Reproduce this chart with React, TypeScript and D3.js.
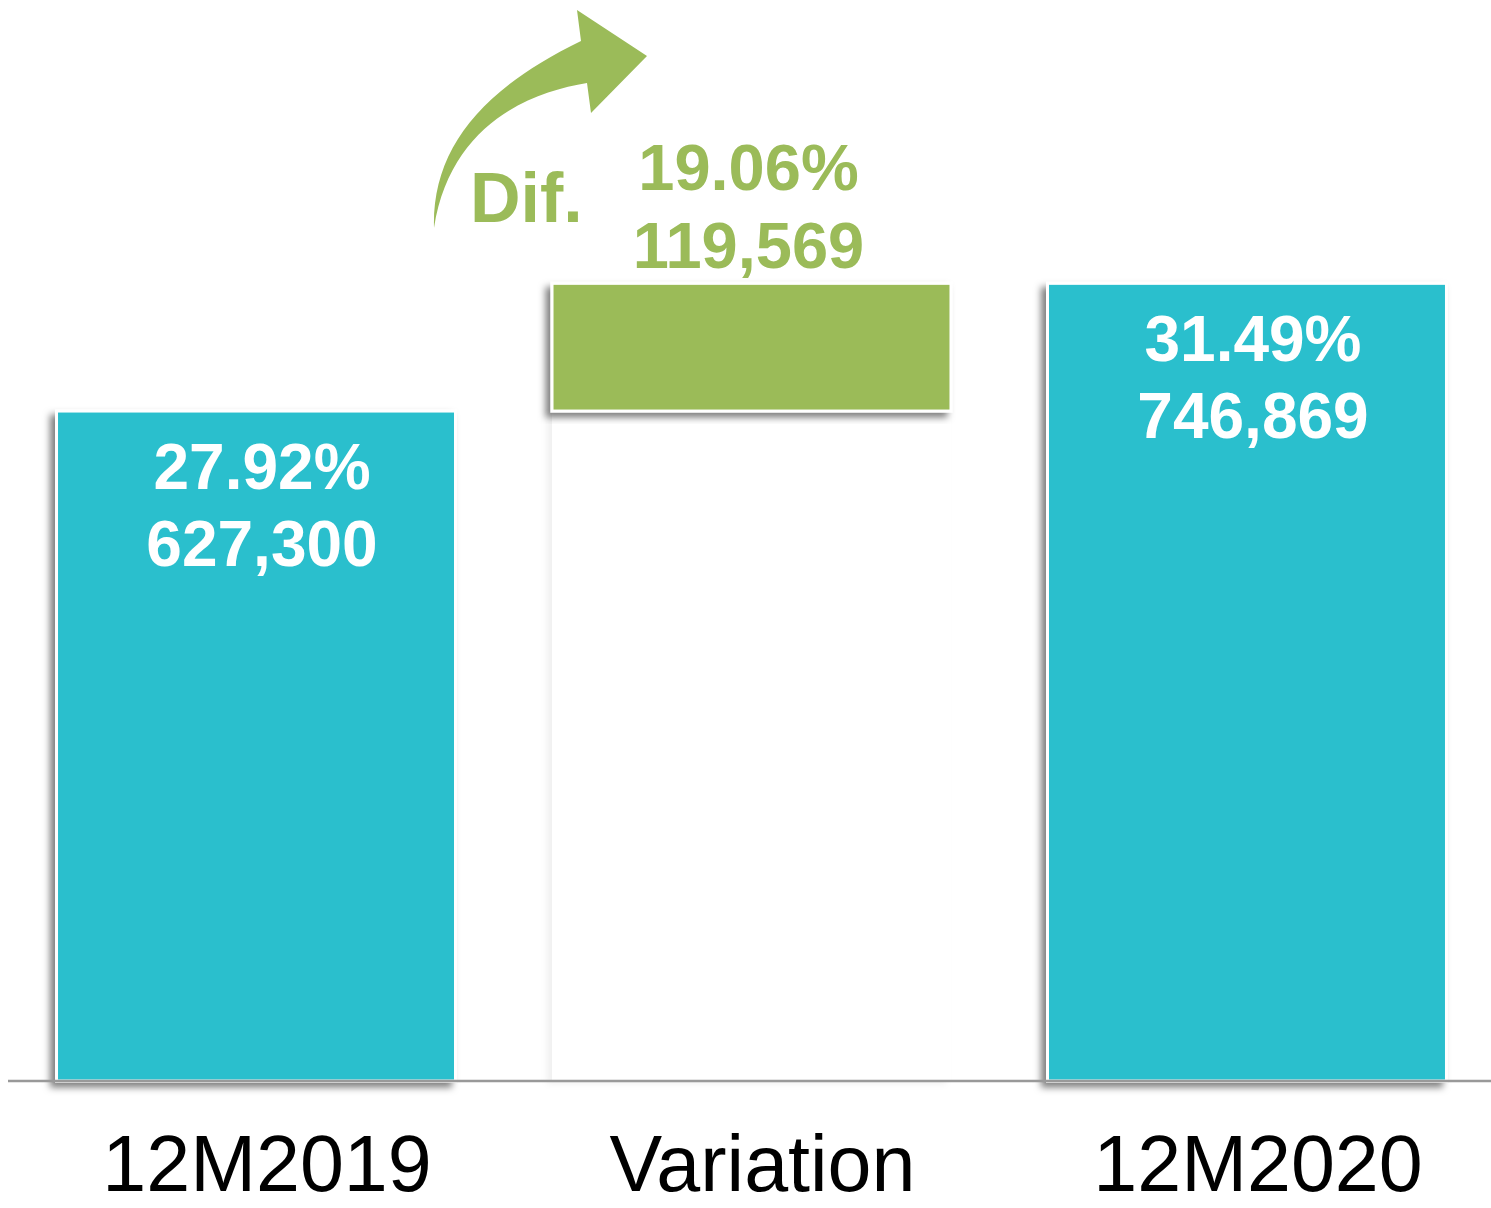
import React from 'react';
import * as d3 from 'd3';

// chart data
const categories = ['12M2019', 'Variation', '12M2020'];
const values = [627300, 119569, 746869];
const percents = ['27.92%', '19.06%', '31.49%'];
const valueLabels = ['627,300', '119,569', '746,869'];
const diffLabel = 'Dif.';

const width = 1491;
const height = 1208;
const baseY = 1081;

const TEAL = '#2BBFCD';
const GREEN = '#9BBB59';

const App = () => {
  const x = d3.scaleBand<string>()
    .domain(categories)
    .range([10, 1493])
    .paddingInner(0.1948)
    .paddingOuter(0.0939);

  const y = d3.scaleLinear()
    .domain([0, 1000000])
    .range([baseY, baseY - 1068]);

  // waterfall segments: start -> end
  const segments = [
    { cat: categories[0], from: 0, to: values[0], color: TEAL },
    { cat: categories[1], from: values[0], to: values[0] + values[1], color: GREEN },
    { cat: categories[2], from: 0, to: values[2], color: TEAL },
  ];

  const bw = x.bandwidth();
  const font = 'Liberation Sans, Arial, sans-serif';

  return (
    <svg width={width} height={height} style={{ position: 'absolute', left: 0, top: 0 }}>
      <defs>
        <filter id="shadow" x="-10%" y="-10%" width="120%" height="120%">
          <feDropShadow dx={-5} dy={5} stdDeviation={3.5} floodColor="#000" floodOpacity={0.5} />
        </filter>
        <filter id="faint" x="-10%" y="-10%" width="120%" height="120%">
          <feDropShadow dx={-5} dy={3} stdDeviation={3} floodColor="#000" floodOpacity={0.06} />
        </filter>
      </defs>

      {/* invisible base of the variation bar */}
      <rect
        x={x(categories[1])}
        y={y(values[0])}
        width={bw}
        height={y(0) - y(values[0])}
        fill="#fff"
        filter="url(#faint)"
      />

      {segments.map((s) => (
        <rect
          key={s.cat}
          x={x(s.cat)}
          y={y(s.to)}
          width={bw}
          height={y(s.from) - y(s.to)}
          fill={s.color}
          stroke="#fff"
          strokeWidth={3}
          filter="url(#shadow)"
        />
      ))}

      <line x1={8} x2={width} y1={baseY} y2={baseY} stroke="#999" strokeWidth={2.5} />

      {/* labels inside the teal bars */}
      {[0, 2].map((i) => {
        const cx = (x(categories[i]) as number) + bw / 2;
        const top = y(values[i]);
        return (
          <g key={i} fill="#fff" fontFamily={font} fontWeight="bold" fontSize={64} textAnchor="middle">
            <text x={cx + 6} y={top + 78}>{percents[i]}</text>
            <text x={cx + 6} y={top + 155}>{valueLabels[i]}</text>
          </g>
        );
      })}

      {/* labels above the variation bar */}
      <g fill={GREEN} fontFamily={font} fontWeight="bold" fontSize={65} textAnchor="middle">
        <text x={(x(categories[1]) as number) + bw / 2 - 3} y={y(values[0] + values[1]) - 93}>{percents[1]}</text>
        <text x={(x(categories[1]) as number) + bw / 2 - 3} y={y(values[0] + values[1]) - 15}>{valueLabels[1]}</text>
      </g>

      {/* curved arrow */}
      <path
        d="M434,228 C432,150 480,90 581,41 L577,10 L647,56 L591,113 L587,83 C530,92 450,125 434,228 Z"
        fill={GREEN}
      />
      <text x={470} y={222} fill={GREEN} fontFamily={font} fontWeight="bold" fontSize={70}>{diffLabel}</text>

      {/* category axis labels */}
      {categories.map((c) => (
        <text
          key={c}
          x={(x(c) as number) + bw / 2 + 11}
          y={1191}
          textAnchor="middle"
          fontFamily={font}
          fontSize={79}
          fill="#000"
        >
          {c}
        </text>
      ))}
    </svg>
  );
};

export default App;
